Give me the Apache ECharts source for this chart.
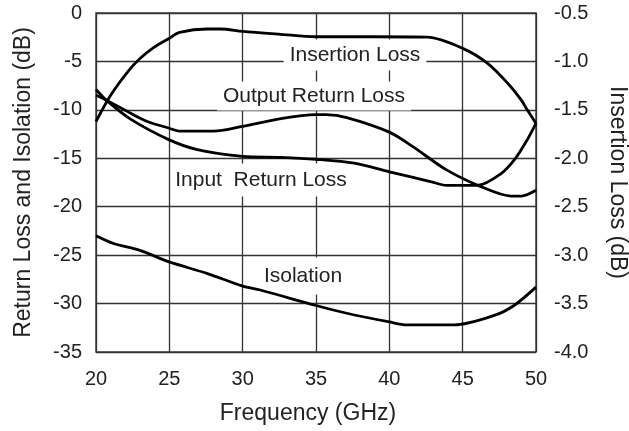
<!DOCTYPE html>
<html>
<head>
<meta charset="utf-8">
<script src="https://cdn.jsdelivr.net/npm/echarts@6/dist/echarts.min.js"></script>
<style>
  html, body { margin: 0; padding: 0; background: #fff; }
  #chart { width: 629px; height: 431px; }
</style>
</head>
<body>
<div id="chart"></div>
<script>
// readings (GHz, dB)
var freqIL = [20, 21, 22.2, 23, 23.9, 25, 25.7, 27.6, 28.5, 30, 32.6, 35, 38.9, 42.6, 45, 46.7, 48.1, 49, 49.4, 50];
var insertionLoss = [-1.62, -1.35, -1.10, -0.97, -0.86, -0.76, -0.70, -0.665, -0.665, -0.69, -0.72, -0.745, -0.745, -0.75, -0.865, -1.02, -1.23, -1.40, -1.50, -1.64];

var freqORL = [20, 20.7, 22.3, 23.5, 25, 25.7, 28, 30, 32.6, 35, 35.7, 37.1, 40, 41.6, 43.9, 46.2, 48.3, 49, 50];
var outputRL = [-8.5, -9.0, -10.3, -11.2, -11.9, -12.2, -12.2, -11.7, -10.9, -10.5, -10.5, -10.8, -12.3, -13.8, -16.2, -17.9, -18.9, -18.9, -18.3];

var freqIRL = [20, 20.7, 22.3, 25, 26.9, 30, 32.6, 35, 37.6, 40, 42.8, 43.9, 46, 47.6, 48.6, 49.4, 50];
var inputRL = [-7.9, -9.0, -10.9, -13.1, -14.1, -14.8, -14.9, -15.1, -15.5, -16.4, -17.4, -17.8, -17.8, -16.6, -15.0, -13.1, -11.4];

var freqIso = [20, 21.2, 23, 25, 27.6, 30, 31.2, 35, 37.1, 40, 41.2, 44.4, 47.2, 48.5, 50];
var isolation = [-23.0, -23.8, -24.5, -25.7, -26.9, -28.2, -28.6, -30.2, -31.0, -31.9, -32.2, -32.2, -31.2, -30.2, -28.3];

function pairs(xs, ys) {
  return xs.map(function (x, i) { return [x, ys[i]]; });
}

var font = '"Liberation Sans", Arial, Helvetica, sans-serif';
var txt = '#222';

var chart = echarts.init(document.getElementById('chart'));

function curve(name, data, axis) {
  return {
    name: name,
    type: 'line',
    yAxisIndex: axis,
    data: data,
    smooth: 0.3,
    showSymbol: false,
    z: 5,
    lineStyle: { color: '#000', width: 2.8 },
    silent: true
  };
}

// curve captions sit on white boxes that cut the grid lines
function tag(text, x, y, pad) {
  return {
    type: 'text',
    z: 1,
    x: x,
    y: y,
    style: {
      text: text,
      align: 'center',
      verticalAlign: 'middle',
      font: '21px ' + font,
      fill: txt,
      backgroundColor: '#fff',
      padding: pad
    }
  };
}

var option = {
  animation: false,
  grid: {
    left: 96, right: 93, top: 13, bottom: 79,
    outerBoundsMode: 'none',
    show: true,
    borderColor: '#444',
    borderWidth: 1.5
  },
  xAxis: {
    type: 'value',
    min: 20, max: 50, interval: 5,
    name: 'Frequency (GHz)',
    nameLocation: 'middle',
    nameGap: 50,
    nameTextStyle: { fontFamily: font, fontSize: 23, color: txt, padding: [0, 16, 0, 0] },
    axisLine: { show: false },
    axisTick: { show: false },
    axisLabel: { fontFamily: font, fontSize: 20, color: txt, margin: 17 },
    splitLine: { lineStyle: { color: '#333', width: 1.3 } }
  },
  yAxis: [
    {
      type: 'value',
      min: -35, max: 0, interval: 5,
      name: 'Return Loss and Isolation (dB)',
      nameLocation: 'middle',
      nameGap: 61,
      nameTextStyle: { fontFamily: font, fontSize: 23, color: txt },
      axisLine: { show: false },
      axisTick: { show: false },
      axisLabel: { fontFamily: font, fontSize: 20, color: txt, margin: 14 },
      splitLine: { lineStyle: { color: '#333', width: 1.3 } }
    },
    {
      type: 'value',
      position: 'right',
      min: -4.0, max: -0.5, interval: 0.5,
      name: 'Insertion Loss (dB)',
      nameLocation: 'middle',
      nameRotate: -90,
      nameGap: 70,
      nameTextStyle: { fontFamily: font, fontSize: 23, color: txt },
      axisLine: { show: false },
      axisTick: { show: false },
      axisLabel: {
        fontFamily: font, fontSize: 20, color: txt, margin: 18,
        formatter: function (v) { return v.toFixed(1); }
      },
      splitLine: { show: false }
    }
  ],
  series: [
    curve('Insertion Loss', pairs(freqIL, insertionLoss), 1),
    curve('Output Return Loss', pairs(freqORL, outputRL), 0),
    curve('Input Return Loss', pairs(freqIRL, inputRL), 0),
    curve('Isolation', pairs(freqIso, isolation), 0)
  ],
  graphic: [
    tag('Insertion Loss', 355, 55, [4, 6, 6, 6]),
    tag('Output Return Loss', 314, 96, [4, 6]),
    tag('Input  Return Loss', 261, 180, [6, 4]),
    tag('Isolation', 303, 276, [8, 6])
  ]
};

chart.setOption(option);
</script>
</body>
</html>
